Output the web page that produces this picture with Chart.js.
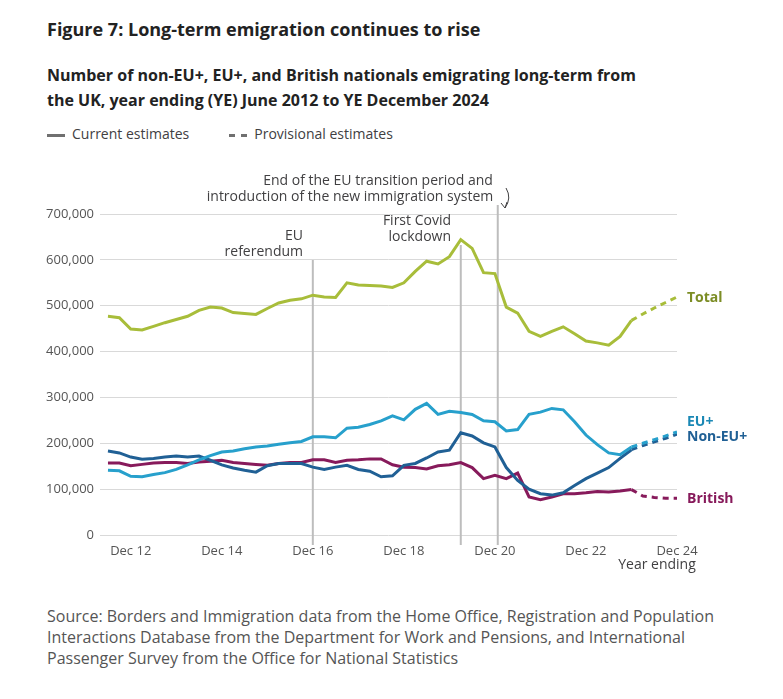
<!DOCTYPE html>
<html>
<head>
<meta charset="utf-8">
<script src="https://cdn.jsdelivr.net/npm/chart.js@4"></script>
<style>
  body { margin: 0; width: 783px; height: 699px; background: #fff; font-family: "Open Sans", sans-serif; color: #222; position: relative; overflow: hidden; }
  .t { position: absolute; left: 47px; }
  #title { top: 17px; font-size: 18px; font-weight: bold; }
  #sub { top: 63px; font-size: 16px; font-weight: bold; line-height: 25px; width: 600px; }
  #legend { top: 124px; font-size: 14px; color: #414042; }
  #legend span.l { display: inline-block; width: 18px; border-top: 3px solid #707070; vertical-align: middle; margin-right: 7px; }
  #legend span.d { border-top-style: dashed; }
  #source { top: 606px; font-size: 16px; color: #555; line-height: 21px; width: 700px; }
  #wrap { position: absolute; left: 0; top: 160px; width: 783px; height: 420px; }
</style>
</head>
<body>
<div class="t" id="title">Figure 7: Long-term emigration continues to rise</div>
<div class="t" id="sub">Number of non-EU+, EU+, and British nationals emigrating long-term from the UK, year ending (YE) June 2012 to YE December 2024</div>
<div class="t" id="legend"><span class="l"></span>Current estimates<span style="display:inline-block;width:40px"></span><span class="l d"></span>Provisional estimates</div>
<div id="wrap"><canvas id="c"></canvas></div>
<div class="t" id="source">Source: Borders and Immigration data from the Home Office, Registration and Population Interactions Database from the Department for Work and Pensions, and International Passenger Survey from the Office for National Statistics</div>
<script>
// quarters YE Jun 2012 (0) .. YE Dec 2024 (50); current to YE Dec 2023 (46)
const tickLabels = { 2: 'Dec 12', 10: 'Dec 14', 18: 'Dec 16', 26: 'Dec 18', 34: 'Dec 20', 42: 'Dec 22', 50: 'Dec 24' };

const total = [477,474,449,447,455,463,470,477,490,497,495,485,483,481,494,506,512,515,523,519,518,550,545,544,543,540,550,575,597,591,607,644,625,572,570,497,484,444,433,444,454,439,423,419,414,433,468];
const euPlus = [141,140,128,127,132,136,143,153,164,173,181,183,188,192,194,198,201,204,214,214,212,233,235,241,249,260,251,274,287,263,270,267,263,249,247,227,230,263,268,276,273,247,218,197,179,175,192];
const nonEu = [183,179,170,165,167,170,172,170,172,163,153,146,141,137,151,156,156,156,148,143,148,152,143,139,127,129,152,156,168,181,185,223,216,201,192,147,119,100,90,87,92,108,123,135,147,167,186];
const british = [157,157,151,154,157,158,158,156,159,161,163,158,156,154,152,156,158,158,164,164,158,163,164,166,166,153,148,147,144,151,153,158,147,123,130,123,135,83,77,83,90,90,92,95,94,96,99];

const totalProv = [468,482,495,507,519];
const euPlusProv = [192,200,208,216,225];
const nonEuProv = [186,195,203,211,220];
const britishProv = [99,85,82,80,80];

const colours = { total: '#a8bd3a', eu: '#27a0cc', nonEu: '#206095', british: '#871a5b' };

function pts(arr, start) { return arr.map((v, i) => ({ x: start + i, y: v * 1000 })); }

function series(data, colour, dashed) {
    return { data: data, borderColor: colour, borderWidth: 3, pointRadius: 0, tension: 0,
             borderDash: dashed ? [6, 5] : [], fill: false };
}

const annotate = {
    id: 'annotate',
    beforeDatasetsDraw(chart) {
        const { ctx, scales: { x, y }, chartArea } = chart;
        ctx.save();
        ctx.strokeStyle = '#bdbdbd';
        ctx.lineWidth = 2;
        [[18, 100], [31, 85], [34.25, 45]].forEach(([i, top]) => {
            const px = x.getPixelForValue(i);
            ctx.beginPath(); ctx.moveTo(px, top); ctx.lineTo(px, chartArea.bottom + 10); ctx.stroke();
        });
        ctx.restore();
    },
    afterDraw(chart) {
        const { ctx, scales: { x }, chartArea } = chart;
        ctx.save();
        ctx.font = '14px "Open Sans"';
        ctx.fillStyle = '#414042';
        ctx.textBaseline = 'middle';
        ctx.textAlign = 'right';
        ctx.fillText('EU', 303, 76); ctx.fillText('referendum', 303, 92);
        ctx.fillText('First Covid', 451, 61); ctx.fillText('lockdown', 451, 77);
        ctx.textAlign = 'center';
        ctx.fillText('End of the EU transition period and', 378, 21);
        ctx.fillText('introduction of the new immigration system', 350, 37);
        ctx.fillText('Year ending', 657, chartArea.bottom + 30);
        // arrow
        ctx.strokeStyle = '#414042'; ctx.lineWidth = 1;
        ctx.beginPath(); ctx.moveTo(506, 28); ctx.quadraticCurveTo(512, 38, 505, 48); ctx.stroke();
        ctx.beginPath(); ctx.moveTo(501, 43); ctx.lineTo(505, 48); ctx.lineTo(507, 42); ctx.stroke();
        // series labels
        ctx.textAlign = 'left';
        ctx.font = 'bold 14px "Open Sans"';
        ctx.fillStyle = '#7c8d25'; ctx.fillText('Total', 687, 138);
        ctx.fillStyle = '#1a88b5'; ctx.fillText('EU+', 687, 262);
        ctx.fillStyle = colours.nonEu; ctx.fillText('Non-EU+', 687, 277);
        ctx.fillStyle = colours.british; ctx.fillText('British', 687, 339);
        ctx.restore();
    }
};

new Chart(document.getElementById('c'), {
    type: 'line',
    data: {
        datasets: [
            series(pts(total, 0), colours.total),
            series(pts(totalProv, 46), colours.total, true),
            series(pts(euPlus, 0), colours.eu),
            series(pts(euPlusProv, 46), colours.eu, true),
            series(pts(nonEu, 0), colours.nonEu),
            series(pts(nonEuProv, 46), colours.nonEu, true),
            series(pts(british, 0), colours.british),
            series(pts(britishProv, 46), colours.british, true)
        ]
    },
    options: {
        responsive: true,
        maintainAspectRatio: false,
        animation: false,
        layout: { padding: { left: 0, right: 106, top: 54, bottom: 0 } },
        plugins: { legend: { display: false }, tooltip: { enabled: false } },
        scales: {
            x: {
                type: 'linear', min: -0.7, max: 50,
                afterFit: s => { s.height = 45; },
                afterBuildTicks: s => { s.ticks = Object.keys(tickLabels).map(v => ({ value: +v })); },
                grid: { display: false, drawTicks: false },
                border: { display: false },
                ticks: { autoSkip: false, maxRotation: 0, padding: 8, color: '#555', font: { family: 'Open Sans', size: 13 },
                         callback: v => tickLabels[v] || '' }
            },
            y: {
                min: 0, max: 700000,
                afterFit: s => { s.width = 100; },
                grid: { color: '#d9d9d9', lineWidth: 1, drawTicks: false },
                border: { display: false },
                ticks: { stepSize: 100000, padding: 6, color: '#555', font: { family: 'Open Sans', size: 13 },
                         callback: v => v.toLocaleString('en-GB') }
            }
        }
    },
    plugins: [annotate]
});
</script>
</body>
</html>
